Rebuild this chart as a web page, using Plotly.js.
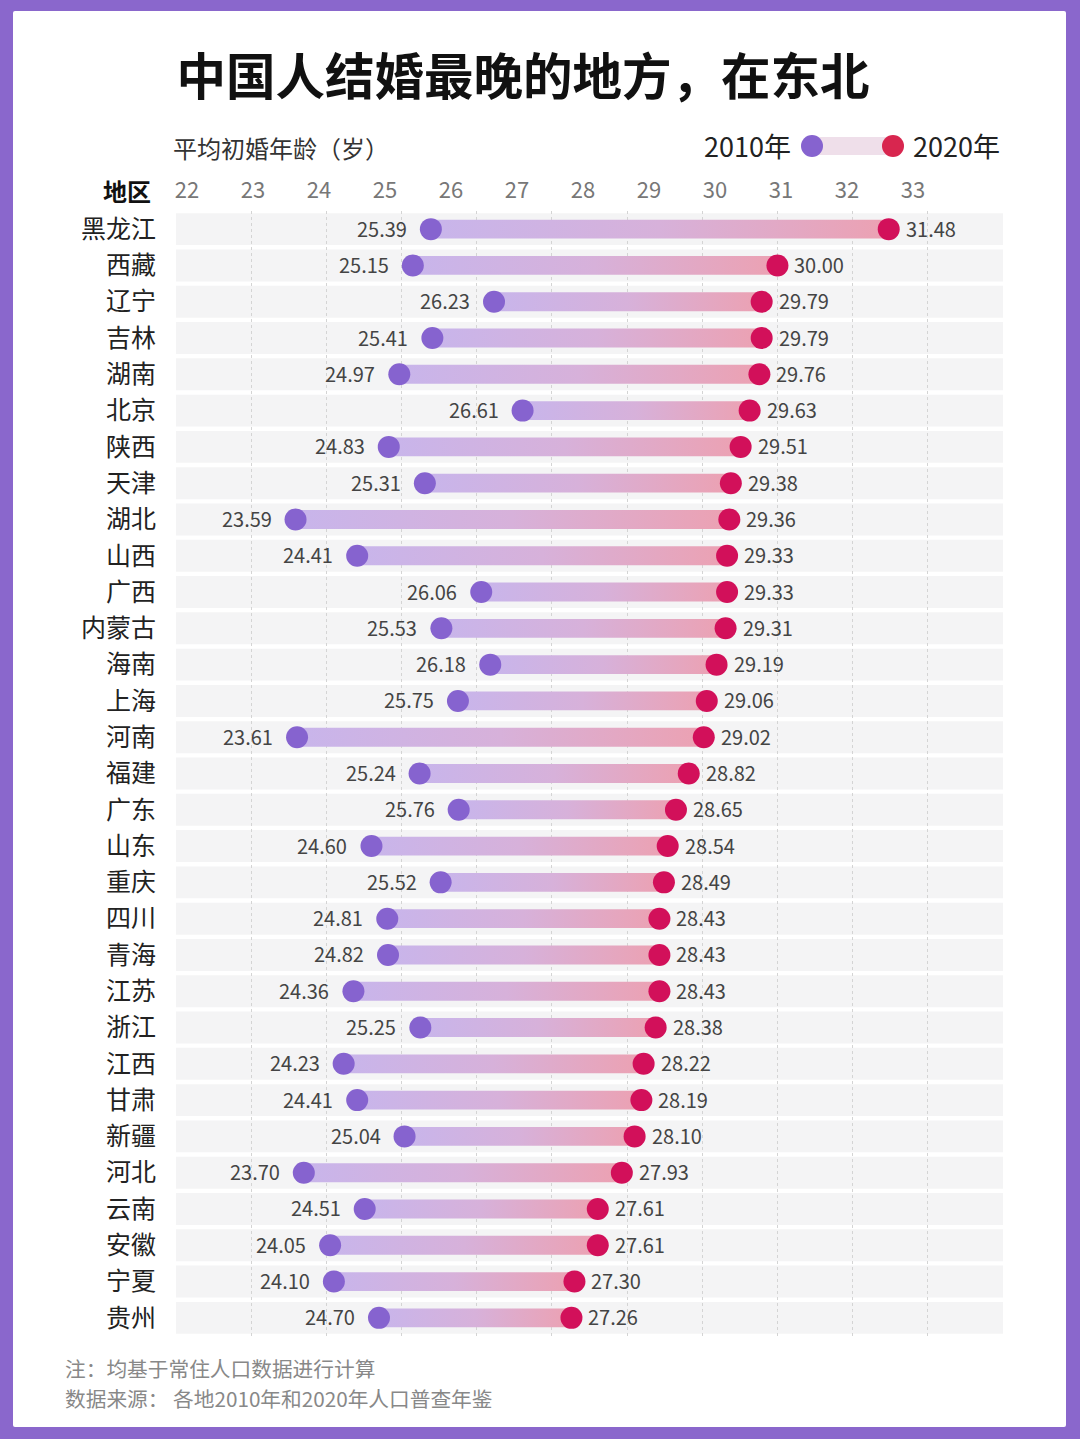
<!DOCTYPE html>
<html>
<head>
<meta charset="utf-8">
<script src="https://cdn.plot.ly/plotly-3.0.1.min.js"></script>
<style>
  html, body { margin:0; padding:0; background:#8a67cc; width:1080px; height:1439px; overflow:hidden; }
  #card { position:absolute; left:13px; top:11px; width:1053px; height:1416px; background:#ffffff; border-radius:2px; }
  #chart { position:absolute; left:0; top:0; width:1080px; height:1439px; }
</style>
</head>
<body>
<div id="card"></div>
<div id="chart"></div>
<script>
// ---- data ----
const regions = ["黑龙江","西藏","辽宁","吉林","湖南","北京","陕西","天津","湖北","山西","广西","内蒙古","海南","上海","河南","福建","广东","山东","重庆","四川","青海","江苏","浙江","江西","甘肃","新疆","河北","云南","安徽","宁夏","贵州"];
const age2010 = [25.39,25.15,26.23,25.41,24.97,26.61,24.83,25.31,23.59,24.41,26.06,25.53,26.18,25.75,23.61,25.24,25.76,24.60,25.52,24.81,24.82,24.36,25.25,24.23,24.41,25.04,23.70,24.51,24.05,24.10,24.70];
const age2020 = [31.48,30.00,29.79,29.79,29.76,29.63,29.51,29.38,29.36,29.33,29.33,29.31,29.19,29.06,29.02,28.82,28.65,28.54,28.49,28.43,28.43,28.43,28.38,28.22,28.19,28.10,27.93,27.61,27.61,27.30,27.26];
const tickValues = [22,23,24,25,26,27,28,29,30,31,32,33];

// ---- style ----
const FONT = "Noto Sans CJK SC, Noto Sans, sans-serif";
const C2010 = "#8663cf";
const C2020 = "#d2105a";
const W = 1080, H = 1439;
const M = {l:176, r:77, t:211, b:103};
const PW = W - M.l - M.r, PH = H - M.t - M.b;
const px = x => (x - M.l) / PW;
const py = y => (H - M.b - y) / PH;

const idx = regions.map((_, i) => i);
const traces = [];

// gradient bars
regions.forEach((r, i) => {
  const a = age2010[i], b = age2020[i], h = 0.26;
  traces.push({
    type: "scatter", mode: "lines",
    x: [a, b, b, a, a], y: [i - h, i - h, i + h, i + h, i - h],
    fill: "toself",
    fillgradient: {type: "horizontal", colorscale: [[0, "#c8b5eb"], [0.5, "#d7b1da"], [1, "#eca1b2"]]},
    line: {width: 0}, hoverinfo: "skip", showlegend: false
  });
});

// dots
traces.push({type:"scatter", mode:"markers", x:age2010, y:idx, marker:{size:22, color:C2010}, showlegend:false, hoverinfo:"skip"});
traces.push({type:"scatter", mode:"markers", x:age2020, y:idx, marker:{size:22, color:C2020}, showlegend:false, hoverinfo:"skip"});

// dummy trace for top axis
traces.push({type:"scatter", mode:"markers", x:[22], y:[0], xaxis:"x2", marker:{opacity:0}, showlegend:false, hoverinfo:"skip"});

// row bands
const shapes = regions.map((r, i) => ({
  type:"rect", xref:"paper", yref:"y", x0:0, x1:1, y0:i-0.44, y1:i+0.44,
  fillcolor:"#f4f4f5", line:{width:0}, layer:"below"
}));
// legend key
const legY = py(146);
shapes.push({type:"rect", xref:"paper", yref:"paper", x0:px(812), x1:px(893), ysizemode:"pixel", yanchor:legY, y0:-9, y1:9,
  fillcolor:"#efdfea", line:{width:0}});
shapes.push({type:"circle", xref:"paper", yref:"paper", xsizemode:"pixel", ysizemode:"pixel",
  xanchor:px(812), yanchor:legY, x0:-11, x1:11, y0:-11, y1:11, fillcolor:C2010, line:{width:0}});
shapes.push({type:"circle", xref:"paper", yref:"paper", xsizemode:"pixel", ysizemode:"pixel",
  xanchor:px(893), yanchor:legY, x0:-11, x1:11, y0:-11, y1:11, fillcolor:"#d8264f", line:{width:0}});

const labelFont = {family:FONT, size:20, color:"#444"};
const annotations = [
  {text:"平均初婚年龄（岁）", xref:"paper", yref:"paper", x:px(171), y:py(148), xanchor:"left", yanchor:"middle", showarrow:false, font:{family:FONT, size:24, color:"#333"}},
  {text:"<b>地区</b>", xref:"paper", yref:"paper", x:px(153), y:py(190), xanchor:"right", yanchor:"middle", showarrow:false, font:{family:FONT, size:24, color:"#111"}},
  {text:"2010年", xref:"paper", yref:"paper", x:px(793), y:py(145), xanchor:"right", yanchor:"middle", showarrow:false, font:{family:FONT, size:27, color:"#222"}},
  {text:"2020年", xref:"paper", yref:"paper", x:px(911), y:py(145), xanchor:"left", yanchor:"middle", showarrow:false, font:{family:FONT, size:27, color:"#222"}},
  {text:"注：均基于常住人口数据进行计算", xref:"paper", yref:"paper", x:px(63), y:py(1368), xanchor:"left", yanchor:"middle", showarrow:false, font:{family:FONT, size:20.7, color:"#888"}},
  {text:"数据来源： 各地2010年和2020年人口普查年鉴", xref:"paper", yref:"paper", x:px(63), y:py(1398), xanchor:"left", yanchor:"middle", showarrow:false, font:{family:FONT, size:20.7, color:"#888"}}
];
// value labels, positioned through the axes
regions.forEach((r, i) => {
  annotations.push({text: age2010[i].toFixed(2), x: age2010[i], y: i, xref:"x", yref:"y", xanchor:"right", yanchor:"middle",
    xshift:-24, yshift:1, showarrow:false, borderpad:0, borderwidth:0, font: labelFont});
  annotations.push({text: age2020[i].toFixed(2), x: age2020[i], y: i, xref:"x", yref:"y", xanchor:"left", yanchor:"middle",
    xshift:17, yshift:1, showarrow:false, borderpad:0, borderwidth:0, font: labelFont});
});

const layout = {
  width: W, height: H,
  margin: M,
  paper_bgcolor: "rgba(0,0,0,0)",
  plot_bgcolor: "rgba(0,0,0,0)",
  font: {family: FONT},
  title: {text: "<b>中国人结婚最晚的地方，在东北</b>", x: 523/W, y: 1 - 78/H, xref:"container", yref:"container",
    xanchor: "center", yanchor: "middle", font: {family: FONT, size: 49.5, color: "#111"}},
  xaxis: {range:[22, 33], showticklabels:false, ticks:"", tickvals:tickValues,
    showgrid:true, gridcolor:"#d4d4d4", griddash:"dot", gridwidth:1, zeroline:false, showline:false, fixedrange:true},
  xaxis2: {overlaying:"x", side:"top", anchor:"y", range:[22 - 11/66, 22 + 816/66], tickvals:tickValues,
    ticktext: tickValues.map(String), showgrid:false, zeroline:false, showline:false, ticks:"",
    ticklabelstandoff: 8, tickfont:{family:FONT, size:22, color:"#777"}, fixedrange:true},
  yaxis: {range:[regions.length - 0.5, -0.5], tickvals:idx, ticktext:regions, showgrid:false, zeroline:false,
    showline:false, ticks:"", ticklabelstandoff: 19, tickfont:{family:FONT, size:25, color:"#222"}, fixedrange:true},
  shapes: shapes,
  annotations: annotations,
  showlegend: false
};

Plotly.newPlot("chart", traces, layout, {displayModeBar:false, staticPlot:true});
</script>
</body>
</html>
